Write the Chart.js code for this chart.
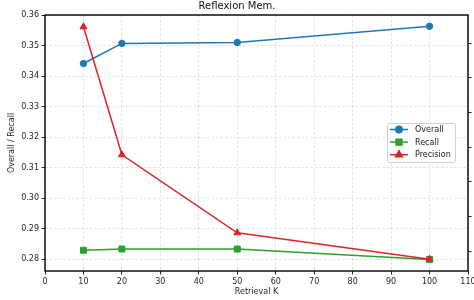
<!DOCTYPE html>
<html>
<head>
<meta charset="utf-8">
<script src="https://cdn.jsdelivr.net/npm/chart.js@4.4.0/dist/chart.umd.min.js"></script>
<style>
  html, body { margin: 0; padding: 0; background: #fff; }
  #wrap { width: 474px; height: 300px; }
</style>
</head>
<body>
<div id="wrap"><canvas id="memChart" width="474" height="300"></canvas></div>
<script>
// values
const retrievalK = [10, 20, 50, 100];
const overall = [0.3442, 0.3508, 0.3511, 0.3564];
const recall = [0.2830, 0.2834, 0.2834, 0.2800];
const precision = [0.1247, 0.0878, 0.0653, 0.0577]; // right axis, its labels are cut off in the picture
const xTicks = [0, 10, 20, 30, 40, 50, 60, 70, 80, 90, 100, 110];
const leftTicks = [0.28, 0.29, 0.30, 0.31, 0.32, 0.33, 0.34, 0.35, 0.36];
const rightTicks = [0.06, 0.07, 0.08, 0.09, 0.10, 0.11, 0.12];

const FONT = "'DejaVu Sans', sans-serif";
const gridDash = [2.5, 2];
const gridColor = 'rgba(0,0,0,0.15)';
const tickColor = '#262626';

function pts(ys) {
    return retrievalK.map((k, i) => ({ x: k, y: ys[i] }));
}

const ctx = document.getElementById('memChart').getContext('2d');

// black frame around the plot area, like matplotlib spines
const frame = {
    id: 'frame',
    afterDatasetsDraw(chart) {
        const a = chart.chartArea;
        const c = chart.ctx;
        c.save();
        c.strokeStyle = '#000';
        c.lineWidth = 1.4;
        c.strokeRect(a.left, a.top, a.right - a.left, a.bottom - a.top);
        c.restore();
    }
};

// legend box sitting inside the plot, middle right
const boxLegend = {
    id: 'boxLegend',
    afterDraw(chart) {
        const c = chart.ctx;
        const x0 = 387, y0 = 123, w = 68, h = 39;
        c.save();
        c.fillStyle = 'rgba(255,255,255,0.85)';
        c.strokeStyle = '#d0d0d0';
        c.lineWidth = 1;
        c.beginPath();
        c.roundRect(x0 + 0.5, y0 + 0.5, w, h, 2);
        c.fill();
        c.stroke();
        chart.data.datasets.forEach((ds, i) => {
            const y = y0 + 6.5 + i * 12.6;
            c.strokeStyle = ds.borderColor;
            c.lineWidth = 1.5;
            c.beginPath();
            c.moveTo(390, y);
            c.lineTo(408, y);
            c.stroke();
            Chart.helpers.drawPoint(c, {
                pointStyle: ds.pointStyle,
                radius: ds.pointRadius,
                borderWidth: 1
            }, 399, y);
            c.fillStyle = ds.borderColor;
            c.fill();
            c.fillStyle = '#222';
            c.font = '8px ' + FONT;
            c.textBaseline = 'middle';
            c.fillText(ds.label, 415, y + 0.5);
        });
        c.restore();
    }
};

function setTicks(list) {
    return scale => { scale.ticks = list.map(v => ({ value: v })); };
}

new Chart(ctx, {
    type: 'line',
    data: {
        datasets: [{
            label: 'Overall',
            data: pts(overall),
            yAxisID: 'y',
            borderColor: '#1f77b4',
            backgroundColor: '#1f77b4',
            pointStyle: 'circle',
            pointRadius: 3.2,
            order: 2
        }, {
            label: 'Recall',
            data: pts(recall),
            yAxisID: 'y',
            borderColor: '#2ca02c',
            backgroundColor: '#2ca02c',
            pointStyle: 'rect',
            pointRadius: 4.2,
            order: 1
        }, {
            label: 'Precision',
            data: pts(precision),
            yAxisID: 'y2',
            borderColor: '#d62728',
            backgroundColor: '#d62728',
            pointStyle: 'triangle',
            pointRadius: 4,
            order: 0
        }]
    },
    options: {
        responsive: false,
        animation: false,
        devicePixelRatio: 1,
        layout: { padding: 0 },
        elements: {
            line: { borderWidth: 1.5, tension: 0 },
            point: { borderWidth: 1, hoverRadius: 4 }
        },
        scales: {
            x: {
                type: 'linear',
                min: 0,
                max: 110,
                afterBuildTicks: setTicks(xTicks),
                afterFit: s => { s.height = 29; s.paddingLeft = 0; s.paddingRight = 0; },
                grid: { color: gridColor, lineWidth: 0.8, tickLength: 3.5, tickColor: tickColor, tickWidth: 1, tickBorderDash: [] },
                border: { display: false, dash: gridDash },
                ticks: { color: tickColor, font: { family: FONT, size: 8 }, padding: 2.5, maxRotation: 0, autoSkip: false },
                title: { display: true, text: 'Retrieval K', color: tickColor, font: { family: FONT, size: 8 }, padding: { top: 0, bottom: 3.5 } }
            },
            y: {
                type: 'linear',
                position: 'left',
                min: 0.2762,
                max: 0.3601,
                afterBuildTicks: setTicks(leftTicks),
                afterFit: s => { s.width = 45; s.paddingTop = 0; s.paddingBottom = 0; },
                grid: { color: gridColor, lineWidth: 0.8, tickLength: 3.5, tickColor: tickColor, tickWidth: 1, tickBorderDash: [] },
                border: { display: false, dash: gridDash },
                ticks: { color: tickColor, font: { family: FONT, size: 8 }, padding: 2.5, callback: v => v.toFixed(2) },
                title: { display: true, text: 'Overall / Recall', color: tickColor, font: { family: FONT, size: 8 }, padding: { top: 7.5, bottom: 0 } }
            },
            y2: {
                type: 'linear',
                position: 'right',
                min: 0.0543,
                max: 0.1281,
                afterBuildTicks: setTicks(rightTicks),
                afterFit: s => { s.width = 6; s.paddingTop = 0; s.paddingBottom = 0; },
                grid: { drawOnChartArea: false, tickLength: 3.5, tickColor: tickColor, tickWidth: 1, tickBorderDash: [] },
                border: { display: false },
                ticks: { display: false }
            }
        },
        plugins: {
            legend: { display: false },
            tooltip: { enabled: false },
            title: {
                display: true,
                text: 'Reflexion Mem.',
                color: '#111',
                font: { family: FONT, size: 10, weight: 'normal' },
                padding: { top: 0, bottom: 3 }
            }
        }
    },
    plugins: [frame, boxLegend]
});
</script>
</body>
</html>
